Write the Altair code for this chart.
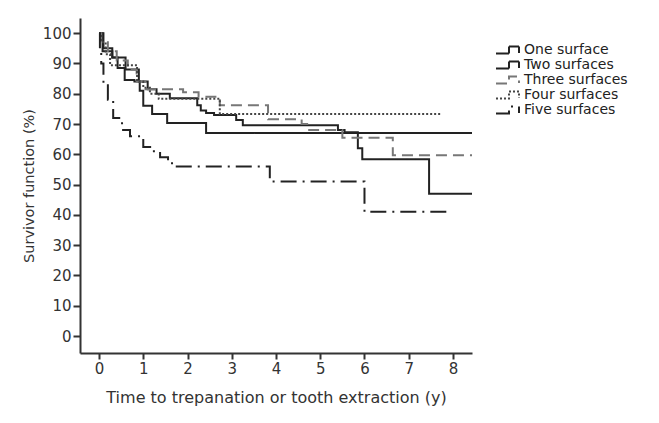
import altair as alt
import pandas as pd

series_names = ["One surface", "Two surfaces", "Three surfaces", "Four surfaces", "Five surfaces"]

one_t = [0, 0.08, 0.3, 0.42, 0.58, 0.8, 0.92, 1.0, 1.2, 1.54, 2.42, 8.43]
one_s = [100, 94, 92, 88.5, 84.5, 84, 81, 76, 73.3, 70.3, 67, 67]

two_t = [0, 0.1, 0.3, 0.6, 0.9, 1.1, 1.3, 1.6, 2.22, 2.3, 2.42, 2.6, 3.1, 3.25, 5.4, 5.55, 5.85, 5.95, 7.46, 8.43]
two_s = [100, 95, 92, 88, 84, 81.5, 80, 78.5, 76.2, 74.5, 73.6, 73, 71.3, 69.6, 68, 67.3, 62, 58.4, 47, 47]

three_t = [0, 0.05, 0.2, 0.4, 0.65, 0.85, 1.05, 1.9, 2.25, 2.73, 3.82, 4.58, 4.75, 5.5, 6.64, 8.43]
three_s = [100, 97, 94, 91, 88, 84, 81.5, 80.5, 79, 76.2, 71.6, 70, 68, 65.5, 59.7, 59.7]

four_t = [0, 0.05, 0.15, 0.25, 0.86, 1.0, 1.15, 1.35, 2.73, 7.75]
four_s = [100, 97, 93, 89.4, 84, 82, 80, 78.3, 73.3, 73.3]

five_t = [0, 0.02, 0.05, 0.1, 0.2, 0.32, 0.52, 0.7, 1.0, 1.2, 1.38, 1.56, 1.65, 3.86, 6.0, 7.86]
five_s = [100, 95, 90, 83.5, 78, 72, 68, 66, 62.4, 61, 59, 58, 56, 51, 41, 41]

x_ticks = [0, 1, 2, 3, 4, 5, 6, 7, 8]
y_ticks = [0, 10, 20, 30, 40, 50, 60, 70, 80, 90, 100]

all_t = [one_t, two_t, three_t, four_t, five_t]
all_s = [one_s, two_s, three_s, four_s, five_s]
rows = []
for name, ts, ss in zip(series_names, all_t, all_s):
    for i, (t, s) in enumerate(zip(ts, ss)):
        rows.append({"series": name, "t": t, "s": s, "i": i})
df = pd.DataFrame(rows)

FONT = "DejaVu Sans"
sym_path = "M-1.2,0.7 L1.4,0.7 L1.4,-0.7 L3.4,-0.7 L3.4,0.6"


def make_legend():
    return alt.Legend(title=None, orient="none", legendX=415, legendY=25,
                      symbolType=sym_path, symbolSize=100, symbolStrokeWidth=2,
                      symbolFillColor="transparent",
                      labelFont=FONT, labelFontSize=14, labelColor="#222",
                      labelOffset=15, rowPadding=-1.5)


chart = alt.Chart(df).mark_line(interpolate="step-after", strokeWidth=2).encode(
    x=alt.X("t:Q", scale=alt.Scale(domain=[-0.43, 8.43], nice=False, zero=False),
            axis=alt.Axis(values=x_ticks, title="Time to trepanation or tooth extraction (y)",
                          format="d", titleFontSize=16, titlePadding=13)),
    y=alt.Y("s:Q", scale=alt.Scale(domain=[-5.6, 105], nice=False, zero=False),
            axis=alt.Axis(values=y_ticks, title="Survivor function (%)", format="d",
                          titleFontSize=14.5, titlePadding=6)),
    color=alt.Color("series:N",
                    scale=alt.Scale(domain=series_names,
                                    range=["#222222", "#222222", "#777777", "#444444", "#222222"]),
                    legend=make_legend()),
    strokeDash=alt.StrokeDash("series:N",
                              scale=alt.Scale(domain=series_names,
                                              range=[[1, 0], [1, 0], [11, 6], [2, 2], [16, 6, 2, 6]]),
                              legend=make_legend()),
    order="i:Q",
).properties(
    width=392, height=335,
    autosize=alt.AutoSizeParams(type="none"),
    padding={"left": 72, "top": 10, "right": 179, "bottom": 62},
).configure_view(stroke=None).configure_axis(
    grid=False, domainColor="#333", domainWidth=2, tickColor="#333", tickWidth=2,
    labelFont=FONT, labelFontSize=15, labelColor="#333",
    titleFont=FONT, titleFontWeight="normal", titleColor="#333",
).configure_axisX(
    tickSize=6, labelPadding=2,
).configure_axisY(
    tickSize=7, labelPadding=2,
)

chart.save("out.html", embed_options={"renderer": "svg", "actions": False})
